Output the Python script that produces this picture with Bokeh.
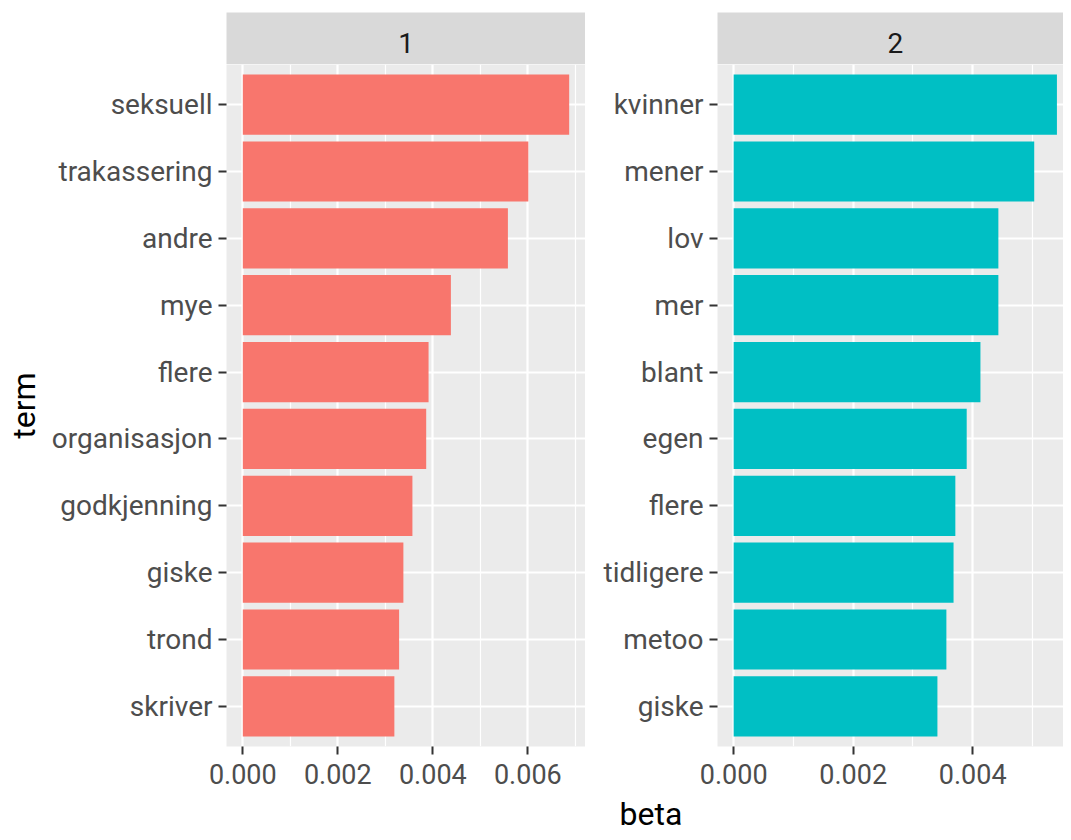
from bokeh.plotting import figure
from bokeh.layouts import row, column
from bokeh.models import FactorRange, Range1d, FixedTicker, PrintfTickFormatter, ColumnDataSource
from bokeh.core.properties import value
from bokeh.embed import file_html
from bokeh.resources import INLINE
import math

# ---- data ----
terms1 = ["seksuell", "trakassering", "andre", "mye", "flere", "organisasjon",
          "godkjenning", "giske", "trond", "skriver"]
beta1 = [0.00687, 0.00601, 0.00558, 0.00438, 0.00391, 0.00386,
         0.00357, 0.00338, 0.00329, 0.00319]
terms2 = ["kvinner", "mener", "lov", "mer", "blant", "egen",
          "flere", "tidligere", "metoo", "giske"]
beta2 = [0.00541, 0.00503, 0.00443, 0.00443, 0.00413, 0.00390,
         0.00371, 0.00368, 0.00356, 0.00341]
topics = ["1", "2"]
major_ticks1 = [0.0, 0.002, 0.004, 0.006]
minor_ticks1 = [0.001, 0.003, 0.005, 0.007]
major_ticks2 = [0.0, 0.002, 0.004]
minor_ticks2 = [0.001, 0.003, 0.005]
x2_visible_end = 0.00552   # right panel is cropped in the reference
x_title = "beta"
y_title = "term"

# ---- style ----
FONT = "Roboto"
RED = "#F8766D"
TEAL = "#00BFC4"
PANEL_BG = "#EBEBEB"
STRIP_BG = "#D9D9D9"
YTICK_FS = "28px"
XTICK_FS = "27px"
STRIP_FS = "28px"
TITLE_FS = "32px"

TOP_PAD = 12
STRIP_H = 52
FRAME_H = 682
BOTTOM_B = 48
TERM_W = 46
L1 = 180
F1_W = 359
L2 = 132
F2_W = 346
BETA_H = 38


def make_panel(terms, betas, color, x_start, x_end, majors, minors, left_border, frame_w):
    src = ColumnDataSource(dict(term=terms, beta=betas))
    yr = FactorRange(factors=list(reversed(terms)), range_padding=0.1,
                     range_padding_units="absolute")
    xr = Range1d(x_start, x_end)
    p = figure(width=left_border + frame_w, height=FRAME_H + BOTTOM_B,
               x_range=xr, y_range=yr, output_backend="svg", toolbar_location=None,
               min_border_left=left_border, min_border_right=0,
               min_border_top=0, min_border_bottom=BOTTOM_B)
    p.hbar(y="term", left=0, right="beta", height=0.9, source=src,
           fill_color=color, line_color=None)
    p.background_fill_color = PANEL_BG
    p.border_fill_color = "white"
    p.outline_line_color = None

    p.xaxis.ticker = FixedTicker(ticks=majors, minor_ticks=minors)
    p.xaxis.formatter = PrintfTickFormatter(format="%.3f")
    for ax in (p.xaxis[0], p.yaxis[0]):
        ax.axis_line_color = None
        ax.major_tick_line_color = "#333333"
        ax.major_tick_line_width = 2
        ax.major_tick_out = 8
        ax.major_tick_in = 0
        ax.minor_tick_line_color = None
        ax.major_label_text_font = FONT
        ax.major_label_text_color = "#4D4D4D"
    p.yaxis.major_label_text_font_size = YTICK_FS
    p.yaxis.major_label_standoff = 6
    p.xaxis.major_label_text_font_size = XTICK_FS
    p.xaxis.major_label_standoff = 9
    p.xgrid.grid_line_color = "white"
    p.xgrid.grid_line_width = 2.2
    p.xgrid.minor_grid_line_color = "white"
    p.xgrid.minor_grid_line_width = 1.2
    p.ygrid.grid_line_color = "white"
    p.ygrid.grid_line_width = 2.2
    return p


def make_strip(label, xr, left_border, frame_w, x_center):
    s = figure(width=left_border + frame_w, height=STRIP_H + TOP_PAD,
               x_range=xr, y_range=Range1d(0, STRIP_H), output_backend="svg",
               toolbar_location=None, x_axis_location=None, y_axis_location=None,
               min_border_left=left_border, min_border_right=0,
               min_border_top=TOP_PAD, min_border_bottom=0)
    s.grid.visible = False
    s.background_fill_color = STRIP_BG
    s.border_fill_color = "white"
    s.outline_line_color = None
    s.text(x=[x_center], y=[STRIP_H / 2 - 4], text=[label], text_font=value(FONT),
           text_font_size=STRIP_FS, text_color="#1A1A1A",
           text_align="center", text_baseline="middle")
    return s


m1 = max(beta1)
m2 = max(beta2)
p1 = make_panel(terms1, beta1, RED, -0.05 * m1, 1.05 * m1,
                major_ticks1, minor_ticks1, L1, F1_W)
p2 = make_panel(terms2, beta2, TEAL, -0.05 * m2, x2_visible_end,
                major_ticks2, minor_ticks2, L2, F2_W)
s1 = make_strip(topics[0], p1.x_range, L1, F1_W, 0.5 * m1)
s2 = make_strip(topics[1], p2.x_range, L2, F2_W, 0.5 * m2)

upper_h = TOP_PAD + STRIP_H + FRAME_H + BOTTOM_B
term_fig = figure(width=TERM_W, height=upper_h, x_range=Range1d(0, TERM_W),
                  y_range=Range1d(upper_h, 0), output_backend="svg",
                  toolbar_location=None, x_axis_location=None, y_axis_location=None,
                  min_border=0)
term_fig.grid.visible = False
term_fig.outline_line_color = None
term_fig.background_fill_color = "white"
term_fig.text(x=[23], y=[TOP_PAD + STRIP_H + FRAME_H / 2], text=[y_title],
              angle=math.pi / 2, text_font=value(FONT), text_font_size=TITLE_FS,
              text_color="black", text_align="center", text_baseline="middle")

total_w = TERM_W + L1 + F1_W + L2 + F2_W
beta_fig = figure(width=total_w, height=BETA_H, x_range=Range1d(0, total_w),
                  y_range=Range1d(0, BETA_H), output_backend="svg",
                  toolbar_location=None, x_axis_location=None, y_axis_location=None,
                  min_border=0)
beta_fig.grid.visible = False
beta_fig.outline_line_color = None
beta_fig.background_fill_color = "white"
panels_center = (TERM_W + L1 + total_w + 12) / 2
beta_fig.text(x=[panels_center], y=[BETA_H / 2], text=[x_title], text_font=value(FONT),
              text_font_size=TITLE_FS, text_color="black",
              text_align="center", text_baseline="middle")

layout = column(row(term_fig, column(s1, p1), column(s2, p2)), beta_fig)
open("out.html", "w").write(file_html(layout, INLINE))
